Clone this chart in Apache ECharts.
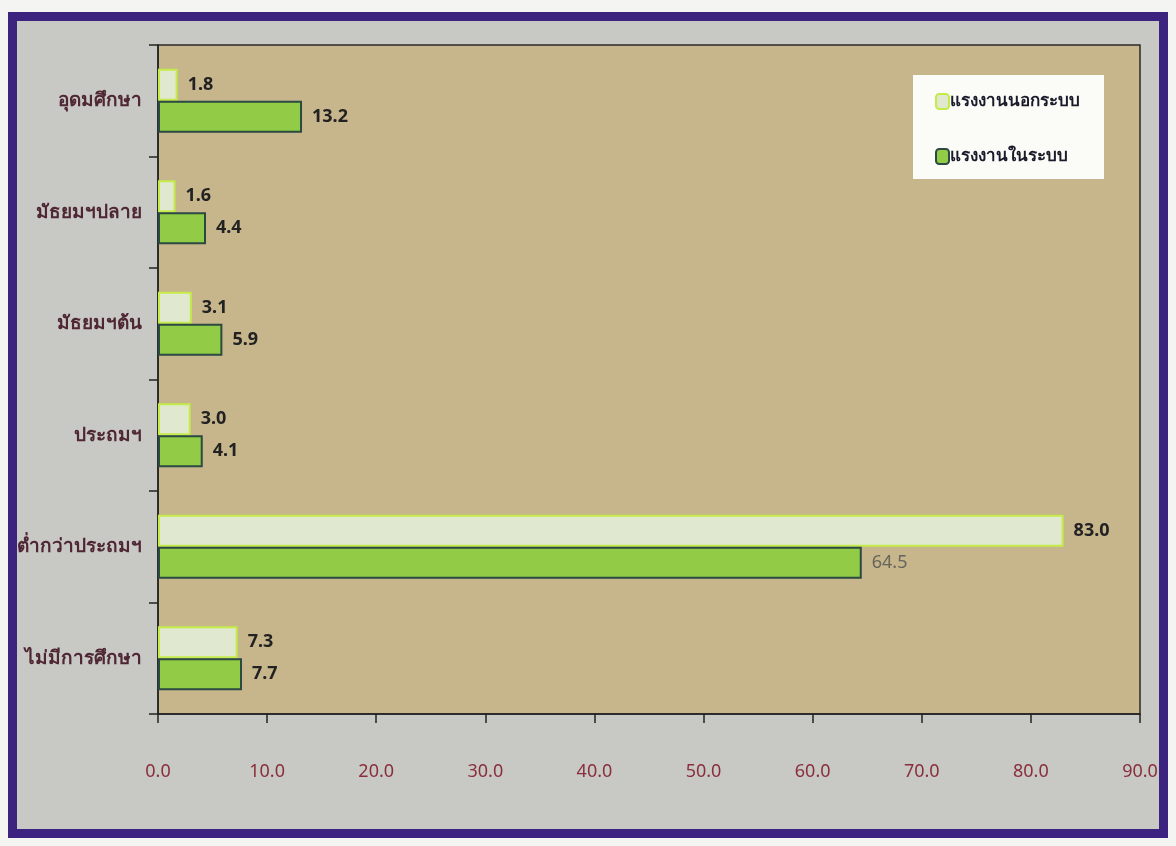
<!DOCTYPE html>
<html>
<head>
<meta charset="utf-8">
<script src="https://cdn.jsdelivr.net/npm/echarts@6/dist/echarts.min.js"></script>
<style>
  html, body { margin: 0; padding: 0; background: #f4f4f2; }
  #frame {
    position: absolute; left: 8px; top: 12px; width: 1160px; height: 826px;
    box-sizing: border-box; border: 9px solid #3d2380; background: #c8c9c5;
  }
  #main { position: absolute; left: 0; top: 0; width: 1176px; height: 846px; }
</style>
</head>
<body>
<div id="frame"></div>
<div id="main"></div>
<script>
// categories, top to bottom
var categories = ['อุดมศึกษา', 'มัธยมฯปลาย', 'มัธยมฯต้น', 'ประถมฯ', 'ต่ำกว่าประถมฯ', 'ไม่มีการศึกษา'];
var seriesNames = ['แรงงานนอกระบบ', 'แรงงานในระบบ'];
var informal = [1.8, 1.6, 3.1, 3.0, 83.0, 7.3];
var formal = [13.2, 4.4, 5.9, 4.1, 64.5, 7.7];
var xTicks = [0, 10, 20, 30, 40, 50, 60, 70, 80, 90];

var font = "'Noto Sans', 'DejaVu Sans', sans-serif";
var chart = echarts.init(document.getElementById('main'));

var labelStyle = {
    show: true,
    position: 'right',
    distance: 10,
    color: '#222',
    fontWeight: 'bold',
    fontSize: 18,
    fontFamily: font,
    formatter: function (p) { return p.value.toFixed(1); }
};

// the 64.5 label is printed faded in the original
var formalData = formal.map(function (v, i) {
    if (i === 4) return { value: v, label: { color: '#66665a', fontWeight: 'normal' } };
    return v;
});

var option = {
    animation: false,
    legend: {
        data: seriesNames,
        orient: 'vertical',
        left: 913,
        top: 75,
        width: 190,
        padding: [18, 24, 14, 22],
        itemGap: 38,
        itemWidth: 13,
        itemHeight: 15,
        backgroundColor: '#fbfbf7',
        textStyle: { color: '#1a1a2a', fontSize: 17, fontWeight: 'bold', fontFamily: font, padding: [0, 0, 0, -4] }
    },
    grid: {
        left: 158, top: 45, right: 36, bottom: 132,
        show: true,
        backgroundColor: '#c7b58c',
        borderColor: '#2a2a2a',
        borderWidth: 1.5
    },
    xAxis: {
        type: 'value',
        min: 0, max: 90, interval: 10,
        axisLine: { show: true, lineStyle: { color: '#222', width: 1.5 } },
        axisTick: { show: true, length: 9, lineStyle: { color: '#222', width: 1.5 } },
        splitLine: { show: false },
        axisLabel: {
            margin: 49,
            color: '#8a2e3c',
            fontSize: 18,
            fontFamily: font,
            formatter: function (v) { return xTicks.indexOf(v) >= 0 ? v.toFixed(1) : ''; }
        }
    },
    yAxis: {
        type: 'category',
        data: categories,
        inverse: true,
        axisLine: { show: true, lineStyle: { color: '#222', width: 1.5 } },
        axisTick: { show: true, length: 9, lineStyle: { color: '#222', width: 1.5 } },
        axisLabel: { margin: 16, color: '#4e2634', fontSize: 19, fontWeight: 'bold', fontFamily: font }
    },
    series: [
        {
            name: seriesNames[0],
            type: 'bar',
            data: informal,
            barWidth: 32,
            barGap: '0%',
            itemStyle: { color: '#e0e8cf', borderColor: '#c4ec48', borderWidth: 2 },
            label: labelStyle
        },
        {
            name: seriesNames[1],
            type: 'bar',
            data: formalData,
            barWidth: 32,
            barGap: '0%',
            itemStyle: { color: '#92cb45', borderColor: '#2b4a42', borderWidth: 2 },
            label: labelStyle
        }
    ]
};

chart.setOption(option);
</script>
</body>
</html>
